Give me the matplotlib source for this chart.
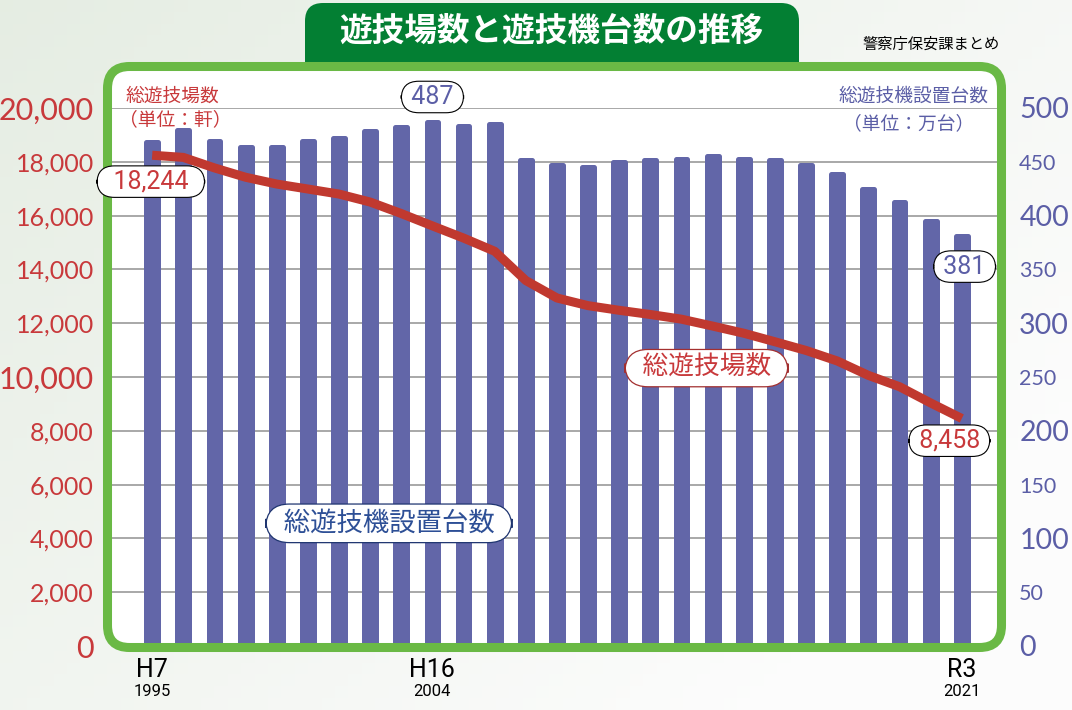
import numpy as np
import matplotlib.pyplot as plt
from matplotlib import font_manager
from matplotlib.patches import FancyBboxPatch

plt.rcParams['font.family'] = ['Noto Sans CJK JP', 'DejaVu Sans']

# data
years = list(range(1995, 2022))
halls = [18244, 18164, 17773, 17426, 17173, 16988, 16801, 16504, 16076, 15617,
         15165, 14674, 13585, 12937, 12652, 12479, 12323, 12149, 11893, 11627,
         11310, 10986, 10596, 10060, 9639, 9035, 8458]
machines = [468, 480, 469, 464, 464, 469, 472, 479, 482, 487, 483, 485, 452, 447,
            445, 450, 452, 453, 455, 453, 452, 447, 439, 425, 413, 395, 381]
hall_ticks = list(range(0, 20001, 2000))
machine_ticks = list(range(0, 501, 50))
era_labels = {1995: 'H7', 2004: 'H16', 2021: 'R3'}

RED = '#c8393b'
LINE_RED = '#c0392f'
BAR = '#6266a8'
BLUE = '#5b5ea6'
GREEN = '#6ab945'
DARK_GREEN = '#037f33'

names = {f.name for f in font_manager.fontManager.ttflist}
narrow = 'Liberation Sans Narrow' if 'Liberation Sans Narrow' in names else 'Roboto'
roundf = 'Lato' if 'Lato' in names else 'DejaVu Sans'

W, H = 1072, 710


def rect(l, t, r, b):
    return [l / W, 1 - b / H, (r - l) / W, (b - t) / H]


fig = plt.figure(figsize=(W / 100, H / 100), dpi=100)

# background, title tab and white panel (pixel coords)
bg = fig.add_axes([0, 0, 1, 1], zorder=0)
bg.set_xlim(0, W)
bg.set_ylim(H, 0)
bg.axis('off')
gx, gy = np.meshgrid(np.linspace(0, 1, 80), np.linspace(0, 1, 60))
t = np.clip(0.7 * gx + 0.5 * gy, 0, 1)[..., None]
c0 = np.array([0.90, 0.93, 0.89])
c1 = np.array([0.99, 0.99, 0.99])
bg.imshow(c0 * (1 - t) + c1 * t, extent=(0, W, H, 0), aspect='auto')
bg.add_patch(FancyBboxPatch((305, 3), 494, 80, boxstyle='round,pad=0,rounding_size=18',
                            fc=DARK_GREEN, ec='none'))
bg.add_patch(FancyBboxPatch((107.5, 66.5), 894, 581, boxstyle='round,pad=0,rounding_size=22',
                            fc='white', ec='none'))

# bars: machines (right scale)
ax = fig.add_axes(rect(112, 108, 997, 646), zorder=1)
ax.patch.set_alpha(0)
ax.bar(years, machines, width=0.38, color=BAR, edgecolor=BAR, linewidth=3.6,
       joinstyle='round')
ax.set_xlim(1993.71, 2022.13)
ax.set_ylim(0, 500)
ax.set_yticks(machine_ticks)
ax.set_yticklabels([str(v) for v in machine_ticks])
ax.yaxis.tick_right()
ax.tick_params(axis='y', length=0, pad=16, labelcolor=BLUE)
for v, lab in zip(machine_ticks, ax.get_yticklabels()):
    lab.set_family(roundf)
    lab.set_fontsize(20.5 if v % 100 == 0 else 15.5)
ax.set_xticks([])
ax.set_axisbelow(True)
ax.grid(axis='y', color='#a8a8a8', lw=1.4)
for s in ax.spines.values():
    s.set_visible(False)

box_k = dict(boxstyle='round,pad=0.15,rounding_size=0.7', fc='white', ec='black', lw=0.8)
ax.annotate(f' {machines[9]} ', xy=(years[9], machines[9]), xytext=(0, 18),
            textcoords='offset points', ha='center', va='center', color=BLUE,
            fontsize=18, family=narrow, bbox=box_k, zorder=5)
ax.annotate(f' {machines[-1]} ', xy=(years[-1], machines[-1]), xytext=(2, -22),
            textcoords='offset points', ha='center', va='center', color=BLUE,
            fontsize=18, family=narrow, bbox=box_k, zorder=5)
ax.text(2002.6, 114, '  総遊技機設置台数  ', ha='center', va='center', color='#2d4f96',
        fontsize=19,
        bbox=dict(boxstyle='round,pad=0.22,rounding_size=0.9', fc='white', ec='#1f3570', lw=0.9))

# x labels
for yr, lbl in era_labels.items():
    ax.annotate(lbl, xy=(yr, 0), xycoords=('data', 'axes fraction'), xytext=(0, -17),
                textcoords='offset points', ha='center', va='center', fontsize=18,
                family=narrow, annotation_clip=False)
    ax.annotate(str(yr), xy=(yr, 0), xycoords=('data', 'axes fraction'), xytext=(0, -33),
                textcoords='offset points', ha='center', va='center', fontsize=12,
                family=narrow, annotation_clip=False)

# green frame (above bars, below the line layer)
ov = fig.add_axes([0, 0, 1, 1], zorder=1.5)
ov.set_xlim(0, W)
ov.set_ylim(H, 0)
ov.axis('off')
ov.patch.set_alpha(0)
ov.add_patch(FancyBboxPatch((107.5, 66.5), 894, 581, boxstyle='round,pad=0,rounding_size=22',
                            fc='none', ec=GREEN, lw=6.5))

# line: halls (left scale)
ax2 = ax.twinx()
ax2.set_zorder(2)
ax2.patch.set_alpha(0)
ax2.plot(years, halls, color=LINE_RED, lw=6.5, solid_capstyle='butt')
ax2.set_ylim(0, 20000)
ax2.set_yticks(hall_ticks)
ax2.set_yticklabels([f'{v:,}' for v in hall_ticks])
ax2.yaxis.tick_left()
ax.yaxis.tick_right()
ax2.tick_params(axis='y', length=0, pad=13, labelcolor=RED)
for v, lab in zip(hall_ticks, ax2.get_yticklabels()):
    lab.set_family(roundf)
    lab.set_fontsize(22 if v % 10000 == 0 else 18)
for s in ax2.spines.values():
    s.set_visible(False)

ax2.annotate(f'  {halls[0]:,}  ', xy=(years[0], halls[0]), xytext=(-1, -19),
             textcoords='offset points', ha='center', va='center', color=RED,
             fontsize=18, family=narrow, bbox=box_k)
ax2.annotate(f' {halls[-1]:,} ', xy=(years[-1], halls[-1]), xytext=(-9, -16),
             textcoords='offset points', ha='center', va='center', color=RED,
             fontsize=18, family=narrow, bbox=box_k)
ax2.text(2012.8, 10330, '  総遊技場数  ', ha='center', va='center', color=RED, fontsize=18.5,
         bbox=dict(boxstyle='round,pad=0.22,rounding_size=0.9', fc='white', ec='#a33030', lw=0.9))

# unit captions
ax2.text(0.0147, 1.022, '総遊技場数', transform=ax2.transAxes, ha='left', va='center',
         color=RED, fontsize=13.5)
ax2.text(0.008, 0.978, '（単位：軒）', transform=ax2.transAxes, ha='left', va='center',
         color=RED, fontsize=13.5)
ax2.text(0.990, 1.022, '総遊技機設置台数', transform=ax2.transAxes, ha='right', va='center',
         color=BLUE, fontsize=13.5)
ax2.text(0.9006, 0.970, '（単位：万台）', transform=ax2.transAxes, ha='center', va='center',
         color=BLUE, fontsize=13.5)

fig.text(551 / W, 1 - 31 / H, '遊技場数と遊技機台数の推移', ha='center', va='center',
         color='white', fontsize=23.5, fontweight='bold')
fig.text(931 / W, 1 - 44 / H, '警察庁保安課まとめ', ha='center', va='center',
         color='black', fontsize=11)

fig.savefig('out.png', dpi=100)
